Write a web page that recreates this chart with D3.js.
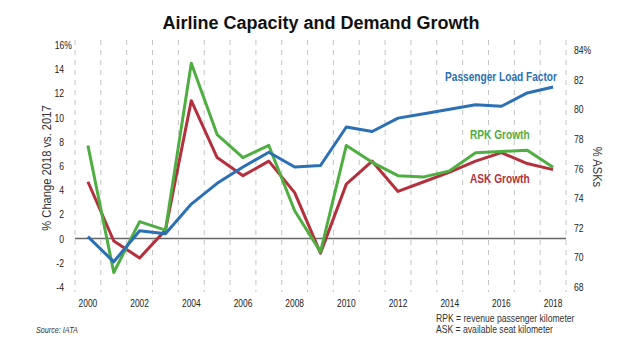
<!DOCTYPE html>
<html>
<head>
<meta charset="utf-8">
<script src="https://cdn.jsdelivr.net/npm/d3@7"></script>
<style>
  body { margin: 0; background: #fff; }
  svg { display: block; }
</style>
</head>
<body>
<div id="chart"></div>
<script>
// values
const years = [2000, 2001, 2002, 2003, 2004, 2005, 2006, 2007, 2008, 2009,
               2010, 2011, 2012, 2013, 2014, 2015, 2016, 2017, 2018];
const rpkGrowth = [7.7, -2.8, 1.4, 0.7, 14.5, 8.6, 6.7, 7.7, 2.3, -1.1,
                   7.7, 6.3, 5.2, 5.1, 5.6, 7.1, 7.2, 7.3, 5.9];
const askGrowth = [4.7, -0.2, -1.6, 0.7, 11.4, 6.7, 5.2, 6.4, 3.8, -1.2,
                   4.5, 6.4, 3.9, 4.7, 5.5, 6.4, 7.1, 6.2, 5.7];
const loadFactor = [71.4, 69.7, 71.8, 71.6, 73.6, 75.0, 76.1, 77.1, 76.1, 76.2,
                    78.8, 78.5, 79.4, 79.7, 80.0, 80.3, 80.2, 81.1, 81.5];
const leftTicks = [-4, -2, 0, 2, 4, 6, 8, 10, 12, 14, 16];
const rightTicks = [68, 70, 72, 74, 76, 78, 80, 82, 84];
const yearLabels = [2000, 2002, 2004, 2006, 2008, 2010, 2012, 2014, 2016, 2018];

const width = 622, height = 352;
const sans = "'Liberation Sans', Arial, sans-serif";

const svg = d3.select("#chart").append("svg")
    .attr("width", width)
    .attr("height", height);

const x = d3.scaleLinear().domain([1999.5, 2018.5]).range([75, 566]);
const yL = d3.scaleLinear().domain([-4, 16]).range([287, 45]);
const yR = d3.scaleLinear().domain([68, 84]).range([287, 50]);

// no narrow font installed, so squeeze the text horizontally
function condense(sel, k) {
    sel.each(function() {
        const t = d3.select(this);
        const x0 = +t.attr("x") || 0, y0 = +t.attr("y") || 0;
        const prev = t.attr("transform") || "";
        t.attr("x", 0).attr("y", 0)
            .attr("transform", `${prev} translate(${x0},${y0}) scale(${k},1)`);
    });
}

// title
svg.append("text")
    .attr("x", 321).attr("y", 29)
    .attr("text-anchor", "middle")
    .style("font-family", sans)
    .style("font-weight", "bold")
    .style("font-size", "18px")
    .style("fill", "#111")
    .text("Airline Capacity and Demand Growth");

// dashed vertical grid between years
const grid = d3.range(1999.5, 2019, 1);
svg.append("g").selectAll("line")
    .data(grid)
    .enter().append("line")
    .attr("x1", d => x(d)).attr("x2", d => x(d))
    .attr("y1", 40).attr("y2", 292)
    .attr("stroke", "#c4c4c4")
    .attr("stroke-width", 1)
    .attr("stroke-dasharray", "5,5");

// zero line
svg.append("line")
    .attr("x1", x(1999.5)).attr("x2", x(2018.5))
    .attr("y1", yL(0)).attr("y2", yL(0))
    .attr("stroke", "#666")
    .attr("stroke-width", 1.5);

// left ticks, the top one carries the % sign
svg.append("g")
    .style("font-family", sans)
    .style("font-size", "10.5px")
    .style("fill", "#222")
    .selectAll("text")
    .data(leftTicks)
    .enter().append("text")
    .attr("x", d => d === 16 ? 72 : 64)
    .attr("y", d => yL(d) + 4)
    .attr("text-anchor", "end")
    .text(d => d === 16 ? d + "%" : d)
    .call(condense, 0.82);

// right ticks
svg.append("g")
    .style("font-family", sans)
    .style("font-size", "10.5px")
    .style("fill", "#222")
    .selectAll("text")
    .data(rightTicks)
    .enter().append("text")
    .attr("x", 574)
    .attr("y", d => yR(d) + 4)
    .text(d => d === 84 ? d + "%" : d)
    .call(condense, 0.82);

// year labels
svg.append("g")
    .style("font-family", sans)
    .style("font-size", "10.5px")
    .style("fill", "#222")
    .selectAll("text")
    .data(yearLabels)
    .enter().append("text")
    .attr("x", d => x(d))
    .attr("y", 307)
    .attr("text-anchor", "middle")
    .text(d => d)
    .call(condense, 0.8);

// axis titles
svg.append("text")
    .attr("transform", "translate(51,168) rotate(-90)")
    .attr("text-anchor", "middle")
    .style("font-family", sans)
    .style("font-size", "13px")
    .style("fill", "#333")
    .text("% Change 2018 vs. 2017")
    .call(condense, 0.86);

svg.append("text")
    .attr("transform", "translate(593,167) rotate(90)")
    .attr("text-anchor", "middle")
    .style("font-family", sans)
    .style("font-size", "13px")
    .style("fill", "#333")
    .text("% ASKs")
    .call(condense, 0.86);

// series
const lineL = d3.line()
    .x((d, i) => x(years[i]))
    .y(d => yL(d));
const lineR = d3.line()
    .x((d, i) => x(years[i]))
    .y(d => yR(d));

svg.append("path")
    .datum(askGrowth)
    .attr("d", lineL)
    .attr("fill", "none")
    .attr("stroke", "#b3303c")
    .attr("stroke-width", 3)
    .attr("stroke-linejoin", "round");

svg.append("path")
    .datum(rpkGrowth)
    .attr("d", lineL)
    .attr("fill", "none")
    .attr("stroke", "#4fae42")
    .attr("stroke-width", 3)
    .attr("stroke-linejoin", "round");

svg.append("path")
    .datum(loadFactor)
    .attr("d", lineR)
    .attr("fill", "none")
    .attr("stroke", "#2b6fb5")
    .attr("stroke-width", 3)
    .attr("stroke-linejoin", "round");

// series labels
const labels = [
    {text: "Passenger Load Factor", x: 445, y: 81, color: "#2b6fb5"},
    {text: "RPK Growth", x: 470, y: 139, color: "#4fae42"},
    {text: "ASK Growth", x: 470, y: 183, color: "#b3303c"}
];
svg.append("g").selectAll("text")
    .data(labels)
    .enter().append("text")
    .attr("x", d => d.x).attr("y", d => d.y)
    .style("font-family", sans)
    .style("font-weight", "bold")
    .style("font-size", "13px")
    .style("fill", d => d.color)
    .text(d => d.text)
    .call(condense, 0.78);

// footnotes
svg.append("text")
    .attr("x", 36).attr("y", 333)
    .style("font-family", sans)
    .style("font-style", "italic")
    .style("font-size", "8.5px")
    .style("fill", "#333")
    .text("Source: IATA")
    .call(condense, 0.85);

const notes = ["RPK = revenue passenger kilometer", "ASK = available seat kilometer"];
svg.append("g").selectAll("text")
    .data(notes)
    .enter().append("text")
    .attr("x", 436)
    .attr("y", (d, i) => 322 + i * 11)
    .style("font-family", sans)
    .style("font-size", "10.5px")
    .style("fill", "#333")
    .text(d => d)
    .call(condense, 0.82);
</script>
</body>
</html>
